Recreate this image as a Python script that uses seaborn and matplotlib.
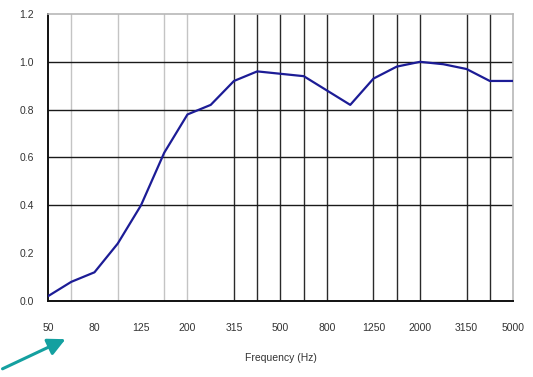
import matplotlib
matplotlib.use("Agg")
import matplotlib.pyplot as plt
import seaborn as sns
import pandas as pd
import numpy as np

# One-third octave band centre frequencies (Hz)
frequencies = [50, 63, 80, 100, 125, 160, 200, 250, 315, 400, 500,
               630, 800, 1000, 1250, 1600, 2000, 2500, 3150, 4000, 5000]
# Sound absorption coefficient per band
absorption = [0.02, 0.08, 0.12, 0.24, 0.40, 0.62, 0.78, 0.82, 0.92, 0.96, 0.95,
              0.94, 0.88, 0.82, 0.93, 0.98, 1.00, 0.99, 0.97, 0.92, 0.92]
tick_labels = ["50", "80", "125", "200", "315", "500", "800",
               "1250", "2000", "3150", "5000"]
y_ticks = [0.0, 0.2, 0.4, 0.6, 0.8, 1.0, 1.2]

df = pd.DataFrame({"pos": np.arange(len(frequencies)),
                   "freq": frequencies, "alpha": absorption})

sns.set_style("white")
plt.rcParams["font.family"] = ["Liberation Sans", "DejaVu Sans"]

fig = plt.figure(figsize=(5.33, 3.77), dpi=100)
ax = fig.add_axes([0.090, 0.2016, 0.8725, 0.7613])

# vertical grid lines (light in the low bands, dark further up)
light_idx = [1, 3, 5, 6]
dark_idx = [8, 9, 10, 11, 12, 14, 15, 16, 18, 19]
for i in light_idx:
    ax.axvline(i, color="#c4c4c4", lw=1.0, zorder=1)
for i in dark_idx:
    ax.axvline(i, color="#2a2a2a", lw=1.0, zorder=1)
# horizontal grid lines
for v in [0.4, 0.6, 0.8, 1.0]:
    ax.axhline(v, color="#1a1a1a", lw=1.0, zorder=1)

sns.lineplot(data=df, x="pos", y="alpha", ax=ax, color="#1c1c96",
             lw=1.6, zorder=3)

ax.set_xlim(0, len(frequencies) - 1)
ax.set_ylim(0, 1.2)
ax.set_xticks(np.arange(len(frequencies)))
ax.set_xticklabels([str(f) if str(f) in tick_labels else "" for f in frequencies])
ax.set_yticks(y_ticks)
ax.set_yticklabels([f"{v:.1f}" for v in y_ticks])
ax.tick_params(axis="both", direction="out", length=4, width=1.0,
               color="#111111", labelsize=7.5, labelcolor="#333333", pad=6)
ax.tick_params(axis="x", pad=12)

for side in ["left", "bottom"]:
    ax.spines[side].set_color("#111111")
    ax.spines[side].set_linewidth(1.4)
for side in ["top", "right"]:
    ax.spines[side].set_color("#b8b8b8")
    ax.spines[side].set_linewidth(1.2)
    ax.spines[side].set_visible(True)

ax.set_xlabel("Frequency (Hz)", fontsize=7.5, color="#333333", labelpad=14)
ax.set_ylabel("")

# pointer arrow in the lower-left corner
fig.patches.append(matplotlib.patches.FancyArrowPatch(
    (0.0, 1 - 370 / 377), (68 / 533, 1 - 338 / 377),
    transform=fig.transFigure, arrowstyle="-|>,head_length=7,head_width=3.5",
    color="#14a0a0", lw=2.2, mutation_scale=1.5))

fig.savefig("out.png", dpi=100)
